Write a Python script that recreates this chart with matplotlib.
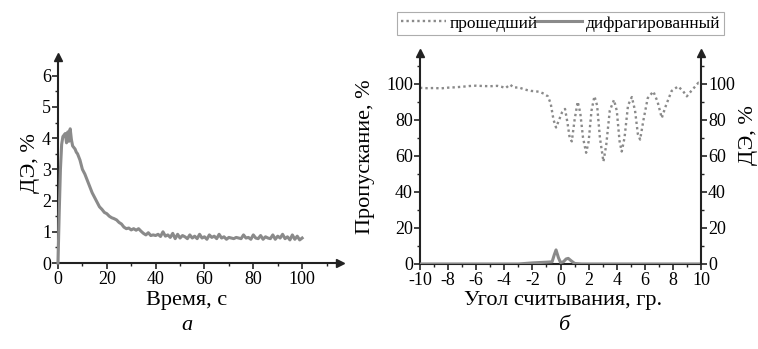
import matplotlib
matplotlib.use("Agg")
import matplotlib.pyplot as plt
from matplotlib.ticker import MultipleLocator

plt.rcParams['font.family'] = ['Liberation Serif', 'DejaVu Serif']
plt.rcParams['axes.unicode_minus'] = False

# panel a: DE vs time
time_a = [0, 0.5, 1, 1.5, 2, 2.5, 3, 3.5, 4, 4.5, 5, 5.5, 6, 6.5, 7, 7.5, 8, 8.5, 9, 9.5, 10,
          11, 12, 13, 14, 15, 16, 17, 18, 19, 20, 21, 22, 23, 24, 25, 26, 27, 28, 29, 30,
          31, 32, 33, 34, 35, 36, 37, 38, 39, 40, 41, 42, 43, 44, 45, 46, 47, 48, 49, 50,
          51, 52, 53, 54, 55, 56, 57, 58, 59, 60, 61, 62, 63, 64, 65, 66, 67, 68, 69, 70,
          71, 72, 73, 74, 75, 76, 77, 78, 79, 80, 81, 82, 83, 84, 85, 86, 87, 88, 89, 90,
          91, 92, 93, 94, 95, 96, 97, 98, 99, 100]
de_a = [0.0, 1.6, 3.0, 3.8, 4.05, 4.1, 4.15, 3.85, 4.2, 3.9, 4.3, 3.95, 3.75, 3.7, 3.65, 3.55, 3.5, 3.4, 3.3, 3.15, 3.0,
        2.85, 2.65, 2.45, 2.25, 2.1, 1.95, 1.8, 1.72, 1.62, 1.58, 1.5, 1.45, 1.42, 1.38, 1.3, 1.25, 1.15, 1.1, 1.12, 1.06,
        1.1, 1.05, 1.1, 1.02, 0.95, 0.9, 0.97, 0.88, 0.9, 0.88, 0.92, 0.85, 1.0, 0.86, 0.9, 0.82, 0.95, 0.78, 0.92, 0.8,
        0.88, 0.84, 0.78, 0.9, 0.8, 0.86, 0.78, 0.92, 0.8, 0.84, 0.76, 0.9, 0.82, 0.86, 0.78, 0.92, 0.8, 0.84, 0.76, 0.82,
        0.8, 0.78, 0.82, 0.8, 0.78, 0.9, 0.8, 0.82, 0.76, 0.9, 0.8, 0.78, 0.88, 0.76, 0.84, 0.8, 0.78, 0.9, 0.76, 0.86,
        0.8, 0.92, 0.78, 0.84, 0.74, 0.9, 0.76, 0.86, 0.74, 0.8]

# panel b: transmission and diffraction vs reading angle
angle_t = [-10, -9.5, -9, -8.5, -8, -7.5, -7, -6.5, -6, -5.5, -5, -4.5, -4.2, -3.9, -3.6, -3.3, -3.0,
           -2.7, -2.4, -2.1, -1.8, -1.5, -1.2, -0.9, -0.7, -0.5, -0.32, -0.1, 0.1, 0.32, 0.5, 0.65,
           0.8, 1.0, 1.22, 1.4, 1.6, 1.82, 2.0, 2.2, 2.41, 2.6, 2.8, 3.05, 3.25, 3.5, 3.8, 4.0, 4.2,
           4.35, 4.55, 4.8, 5.07, 5.3, 5.5, 5.66, 5.9, 6.2, 6.6, 6.9, 7.2, 7.5, 7.9, 8.36, 8.7, 8.98,
           9.3, 9.8, 10]
transmitted = [97.7, 97.5, 97.6, 97.4, 97.8, 98.0, 98.3, 98.7, 98.9, 98.7, 98.6, 98.8, 98.3, 97.6, 99.5, 97.8, 98.0,
               97.2, 96.5, 96.0, 95.8, 95.5, 94.5, 93.0, 89.0, 80.0, 75.7, 80.0, 84.0, 86.0, 78.0, 70.0,
               68.0, 80.0, 90.0, 84.0, 70.0, 61.7, 68.0, 85.0, 93.0, 88.0, 70.0, 56.8, 66.0, 85.0, 91.0, 85.0, 68.0,
               62.4, 70.0, 88.0, 92.6, 85.0, 72.0, 69.0, 80.0, 92.0, 95.7, 90.0, 81.0, 88.0, 96.0, 98.5, 96.0, 93.0,
               96.0, 100.5, 100.0]

angle_d = [-10, -3, -2.5, -2, -1.5, -1, -0.6, -0.45, -0.32, -0.15, 0, 0.2, 0.4, 0.55, 0.75, 1.0, 1.5, 10]
diffracted = [0, 0, 0.3, 0.6, 0.8, 1.0, 1.2, 5.0, 7.8, 3.5, 0.8, 1.2, 2.8, 3.1, 1.8, 0.3, 0, 0]

line_col = '#8a8a8a'
spine_col = '#222222'
tick_fs = 13
label_fs = 16


def style_axis(ax, sides):
    for s in ['left', 'right', 'top', 'bottom']:
        if s in sides:
            ax.spines[s].set_linewidth(1.5)
            ax.spines[s].set_color(spine_col)
        else:
            ax.spines[s].set_visible(False)
    ax.tick_params(which='major', length=4, width=1.2, labelsize=tick_fs, color=spine_col, pad=1)
    ax.tick_params(which='minor', length=2.5, width=1.0, color=spine_col)
    ax.tick_params(axis='x', pad=2)


fig = plt.figure(figsize=(7.58, 3.49), dpi=100)

# ---- panel a ----
ax1 = fig.add_axes([0.0765, 0.2464, 0.372, 0.5903])
ax1.plot(time_a, de_a, color=line_col, lw=2.2, clip_on=False, zorder=3)
ax1.set_xlim(0, 115.5)
ax1.set_ylim(0, 6.6)
ax1.xaxis.set_minor_locator(MultipleLocator(10))
ax1.yaxis.set_minor_locator(MultipleLocator(0.5))
ax1.set_xticks([0, 20, 40, 60, 80, 100])
ax1.set_yticks([0, 1, 2, 3, 4, 5, 6])
style_axis(ax1, ['left', 'bottom'])
ax1.plot(0, 1, '^', color=spine_col, ms=6, transform=ax1.transAxes, clip_on=False)
ax1.plot(1, 0, '>', color=spine_col, ms=6, transform=ax1.transAxes, clip_on=False)

# ---- panel b ----
ax2 = fig.add_axes([0.554, 0.2436, 0.371, 0.6044])
ln_t, = ax2.plot(angle_t, transmitted, color=line_col, lw=1.7, ls=(0, (1, 1.3)), label='прошедший')
ax2.set_xlim(-10, 10)
ax2.set_ylim(0, 117)
ax2.xaxis.set_major_locator(MultipleLocator(2))
ax2.xaxis.set_minor_locator(MultipleLocator(1))
ax2.yaxis.set_minor_locator(MultipleLocator(10))
ax2.set_yticks([0, 20, 40, 60, 80, 100])
style_axis(ax2, ['left', 'bottom'])
ax2.plot(0, 1, '^', color=spine_col, ms=6, transform=ax2.transAxes, clip_on=False)

ax3 = ax2.twinx()
ln_d, = ax3.plot(angle_d, diffracted, color=line_col, lw=2.2, label='дифрагированный')
ax3.set_ylim(0, 117)
ax3.yaxis.set_minor_locator(MultipleLocator(10))
ax3.set_yticks([0, 20, 40, 60, 80, 100])
style_axis(ax3, ['right'])
ax3.plot(1, 1, '^', color=spine_col, ms=6, transform=ax3.transAxes, clip_on=False)

leg = fig.legend(handles=[ln_t, ln_d], loc='center', bbox_to_anchor=(0.7395, 0.9327), ncol=2,
                 fontsize=12.5, frameon=True, fancybox=False, handlelength=2.6, handletextpad=0.2,
                 columnspacing=0.0, borderpad=0.2, borderaxespad=0)
leg.get_frame().set_edgecolor('#999999')
leg.get_frame().set_linewidth(0.8)

# labels
fig.text(0.040, 0.533, 'ДЭ, %', rotation=90, ha='center', va='center', fontsize=label_fs)
fig.text(0.246, 0.140, 'Время, с', ha='center', va='center', fontsize=label_fs)
fig.text(0.246, 0.068, 'а', ha='center', va='center', fontsize=label_fs, style='italic')
fig.text(0.482, 0.55, 'Пропускание, %', rotation=90, ha='center', va='center', fontsize=label_fs)
fig.text(0.987, 0.613, 'ДЭ, %', rotation=90, ha='center', va='center', fontsize=label_fs)
fig.text(0.743, 0.140, 'Угол считывания, гр.', ha='center', va='center', fontsize=label_fs)
fig.text(0.743, 0.068, 'б', ha='center', va='center', fontsize=label_fs, style='italic')

fig.savefig('out.png', dpi=100)
